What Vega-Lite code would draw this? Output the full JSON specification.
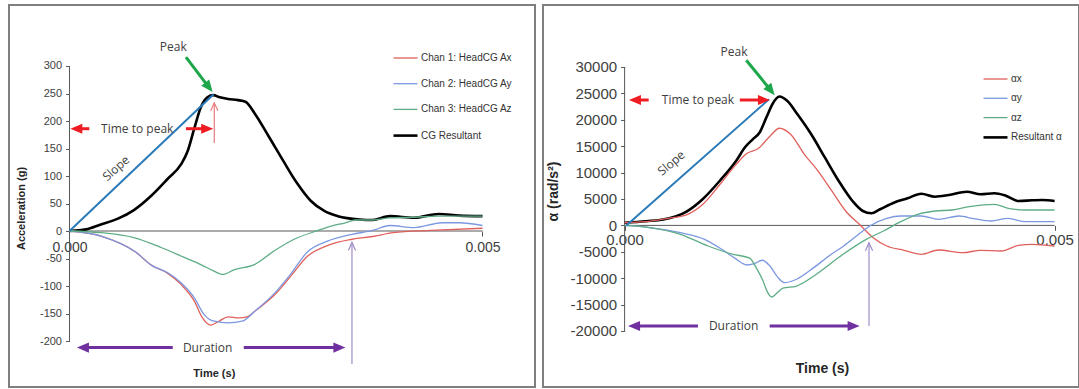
{
  "$schema": "https://vega.github.io/schema/vega-lite/v6.json",
  "background": "white",
  "padding": {"left": 8, "top": 4, "right": 0, "bottom": 0},
  "spacing": 6,
  "config": {
    "view": {"stroke": "#7f7f7f", "strokeWidth": 2},
    "font": "Liberation Sans"
  },
  "resolve": {"scale": {"x": "independent", "y": "independent", "color": "independent", "strokeWidth": "independent"}, "legend": {"color": "independent", "strokeWidth": "independent"}},
  "datasets": {
    "left_axes": [{"t": 0, "v": -200, "t2": 0, "v2": 300}, {"t": 0, "v": 0, "t2": 0.005, "v2": 0}],
    "left_series": [
      {"s": "CG Resultant", "t": 0, "v": 0}, {"s": "CG Resultant", "t": 0.0002, "v": 3}, {"s": "CG Resultant", "t": 0.00038, "v": 12}, {"s": "CG Resultant", "t": 0.00058, "v": 22}, {"s": "CG Resultant", "t": 0.00078, "v": 38}, {"s": "CG Resultant", "t": 0.00099, "v": 64}, {"s": "CG Resultant", "t": 0.00119, "v": 95}, {"s": "CG Resultant", "t": 0.00135, "v": 121}, {"s": "CG Resultant", "t": 0.00143, "v": 145}, {"s": "CG Resultant", "t": 0.00151, "v": 186}, {"s": "CG Resultant", "t": 0.00159, "v": 225}, {"s": "CG Resultant", "t": 0.00167, "v": 243}, {"s": "CG Resultant", "t": 0.00174, "v": 247}, {"s": "CG Resultant", "t": 0.00182, "v": 243}, {"s": "CG Resultant", "t": 0.00192, "v": 240}, {"s": "CG Resultant", "t": 0.00204, "v": 238}, {"s": "CG Resultant", "t": 0.00213, "v": 235}, {"s": "CG Resultant", "t": 0.00225, "v": 212}, {"s": "CG Resultant", "t": 0.00242, "v": 170}, {"s": "CG Resultant", "t": 0.00259, "v": 127}, {"s": "CG Resultant", "t": 0.00275, "v": 88}, {"s": "CG Resultant", "t": 0.00292, "v": 55}, {"s": "CG Resultant", "t": 0.00309, "v": 36}, {"s": "CG Resultant", "t": 0.00325, "v": 27}, {"s": "CG Resultant", "t": 0.00351, "v": 21}, {"s": "CG Resultant", "t": 0.00367, "v": 20}, {"s": "CG Resultant", "t": 0.00388, "v": 27}, {"s": "CG Resultant", "t": 0.00417, "v": 24}, {"s": "CG Resultant", "t": 0.00447, "v": 31}, {"s": "CG Resultant", "t": 0.00472, "v": 28}, {"s": "CG Resultant", "t": 0.005, "v": 27},
      {"s": "Chan 1: HeadCG Ax", "t": 0, "v": 0}, {"s": "Chan 1: HeadCG Ax", "t": 0.0004, "v": -10}, {"s": "Chan 1: HeadCG Ax", "t": 0.0008, "v": -38}, {"s": "Chan 1: HeadCG Ax", "t": 0.00099, "v": -62}, {"s": "Chan 1: HeadCG Ax", "t": 0.00119, "v": -77}, {"s": "Chan 1: HeadCG Ax", "t": 0.00135, "v": -97}, {"s": "Chan 1: HeadCG Ax", "t": 0.00151, "v": -127}, {"s": "Chan 1: HeadCG Ax", "t": 0.00161, "v": -158}, {"s": "Chan 1: HeadCG Ax", "t": 0.00171, "v": -171}, {"s": "Chan 1: HeadCG Ax", "t": 0.00181, "v": -164}, {"s": "Chan 1: HeadCG Ax", "t": 0.00192, "v": -156}, {"s": "Chan 1: HeadCG Ax", "t": 0.00205, "v": -158}, {"s": "Chan 1: HeadCG Ax", "t": 0.00215, "v": -156}, {"s": "Chan 1: HeadCG Ax", "t": 0.00225, "v": -145}, {"s": "Chan 1: HeadCG Ax", "t": 0.00249, "v": -115}, {"s": "Chan 1: HeadCG Ax", "t": 0.00268, "v": -82}, {"s": "Chan 1: HeadCG Ax", "t": 0.00288, "v": -46}, {"s": "Chan 1: HeadCG Ax", "t": 0.00313, "v": -26}, {"s": "Chan 1: HeadCG Ax", "t": 0.00342, "v": -15}, {"s": "Chan 1: HeadCG Ax", "t": 0.00367, "v": -10}, {"s": "Chan 1: HeadCG Ax", "t": 0.00392, "v": -3}, {"s": "Chan 1: HeadCG Ax", "t": 0.00438, "v": 1}, {"s": "Chan 1: HeadCG Ax", "t": 0.005, "v": 5},
      {"s": "Chan 2: HeadCG Ay", "t": 0, "v": 0}, {"s": "Chan 2: HeadCG Ay", "t": 0.0004, "v": -10}, {"s": "Chan 2: HeadCG Ay", "t": 0.0008, "v": -38}, {"s": "Chan 2: HeadCG Ay", "t": 0.00099, "v": -62}, {"s": "Chan 2: HeadCG Ay", "t": 0.00119, "v": -76}, {"s": "Chan 2: HeadCG Ay", "t": 0.00135, "v": -94}, {"s": "Chan 2: HeadCG Ay", "t": 0.00151, "v": -121}, {"s": "Chan 2: HeadCG Ay", "t": 0.00163, "v": -152}, {"s": "Chan 2: HeadCG Ay", "t": 0.00175, "v": -164}, {"s": "Chan 2: HeadCG Ay", "t": 0.00192, "v": -167}, {"s": "Chan 2: HeadCG Ay", "t": 0.00209, "v": -164}, {"s": "Chan 2: HeadCG Ay", "t": 0.00225, "v": -145}, {"s": "Chan 2: HeadCG Ay", "t": 0.00249, "v": -112}, {"s": "Chan 2: HeadCG Ay", "t": 0.00268, "v": -78}, {"s": "Chan 2: HeadCG Ay", "t": 0.00288, "v": -38}, {"s": "Chan 2: HeadCG Ay", "t": 0.00313, "v": -18}, {"s": "Chan 2: HeadCG Ay", "t": 0.00342, "v": -6}, {"s": "Chan 2: HeadCG Ay", "t": 0.00367, "v": 1}, {"s": "Chan 2: HeadCG Ay", "t": 0.00388, "v": 10}, {"s": "Chan 2: HeadCG Ay", "t": 0.00417, "v": 6}, {"s": "Chan 2: HeadCG Ay", "t": 0.00451, "v": 15}, {"s": "Chan 2: HeadCG Ay", "t": 0.00472, "v": 15}, {"s": "Chan 2: HeadCG Ay", "t": 0.005, "v": 10},
      {"s": "Chan 3: HeadCG Az", "t": 0, "v": 0}, {"s": "Chan 3: HeadCG Az", "t": 0.00038, "v": -3}, {"s": "Chan 3: HeadCG Az", "t": 0.00078, "v": -12}, {"s": "Chan 3: HeadCG Az", "t": 0.00111, "v": -30}, {"s": "Chan 3: HeadCG Az", "t": 0.00139, "v": -48}, {"s": "Chan 3: HeadCG Az", "t": 0.00159, "v": -61}, {"s": "Chan 3: HeadCG Az", "t": 0.00175, "v": -73}, {"s": "Chan 3: HeadCG Az", "t": 0.00185, "v": -79}, {"s": "Chan 3: HeadCG Az", "t": 0.002, "v": -70}, {"s": "Chan 3: HeadCG Az", "t": 0.00224, "v": -61}, {"s": "Chan 3: HeadCG Az", "t": 0.00248, "v": -36}, {"s": "Chan 3: HeadCG Az", "t": 0.00272, "v": -15}, {"s": "Chan 3: HeadCG Az", "t": 0.00301, "v": 1}, {"s": "Chan 3: HeadCG Az", "t": 0.00317, "v": 9}, {"s": "Chan 3: HeadCG Az", "t": 0.00334, "v": 15}, {"s": "Chan 3: HeadCG Az", "t": 0.00346, "v": 20}, {"s": "Chan 3: HeadCG Az", "t": 0.00367, "v": 20}, {"s": "Chan 3: HeadCG Az", "t": 0.00388, "v": 24}, {"s": "Chan 3: HeadCG Az", "t": 0.00417, "v": 25}, {"s": "Chan 3: HeadCG Az", "t": 0.00447, "v": 27}, {"s": "Chan 3: HeadCG Az", "t": 0.005, "v": 27}
    ],
    "left_shafts": [
      {"k": "ttp", "t": 0.00012, "v": 186, "t2": 0.00024, "v2": 186},
      {"k": "ttp", "t": 0.00141, "v": 186, "t2": 0.00163, "v2": 186},
      {"k": "dur", "t": 0.00021, "v": -212, "t2": 0.00125, "v2": -212},
      {"k": "dur", "t": 0.00211, "v": -212, "t2": 0.00323, "v2": -212},
      {"k": "peak", "t": 0.00141, "v": 316, "t2": 0.001658, "v2": 267}
    ],
    "left_marks": [
      {"k": "ttpm", "t": 0.001753, "v": 160, "t2": 0.001753, "v2": 233},
      {"k": "durm", "t": 0.00342, "v": -242, "t2": 0.00342, "v2": -21}
    ],
    "left_heads": [
      {"k": "ttp", "h": "left", "t": 0.00001, "v": 186},
      {"k": "ttp", "h": "right", "t": 0.00174, "v": 186},
      {"k": "dur", "h": "left", "t": 0.00009, "v": -212},
      {"k": "dur", "h": "right", "t": 0.00334, "v": -212},
      {"k": "peak", "h": "diag", "t": 0.001733, "v": 252.7}
    ],
    "left_open": [
      {"k": "ttpm", "h": "up", "t": 0.001753, "v": 233},
      {"k": "durm", "h": "up", "t": 0.00342, "v": -21}
    ],
    "left_slope": [{"t": 0, "v": 0, "t2": 0.001745, "v2": 248.5}],
    "left_text": [
      {"label": "Peak", "t": 0.001257, "v": 335},
      {"label": "Time to peak", "t": 0.00082, "v": 186},
      {"label": "Duration", "t": 0.001673, "v": -212}
    ],
    "left_slope_text": [{"label": "Slope", "t": 0.000563, "v": 114}],
    "right_axes": [{"t": 0, "v": -20000, "t2": 0, "v2": 30000}, {"t": 0, "v": 0, "t2": 0.005, "v2": 0}],
    "right_series": [
      {"s": "Resultant α", "t": 0, "v": 500}, {"s": "Resultant α", "t": 0.00025, "v": 800}, {"s": "Resultant α", "t": 0.00045, "v": 1100}, {"s": "Resultant α", "t": 0.00072, "v": 2600}, {"s": "Resultant α", "t": 0.00091, "v": 5000}, {"s": "Resultant α", "t": 0.00111, "v": 8500}, {"s": "Resultant α", "t": 0.0013, "v": 12300}, {"s": "Resultant α", "t": 0.0014, "v": 14800}, {"s": "Resultant α", "t": 0.00149, "v": 16300}, {"s": "Resultant α", "t": 0.00157, "v": 17600}, {"s": "Resultant α", "t": 0.00165, "v": 20500}, {"s": "Resultant α", "t": 0.00172, "v": 23000}, {"s": "Resultant α", "t": 0.0018, "v": 24400}, {"s": "Resultant α", "t": 0.00189, "v": 23600}, {"s": "Resultant α", "t": 0.00201, "v": 21040}, {"s": "Resultant α", "t": 0.00217, "v": 17250}, {"s": "Resultant α", "t": 0.00233, "v": 12820}, {"s": "Resultant α", "t": 0.00249, "v": 8410}, {"s": "Resultant α", "t": 0.00265, "v": 4620}, {"s": "Resultant α", "t": 0.00277, "v": 2730}, {"s": "Resultant α", "t": 0.00287, "v": 2290}, {"s": "Resultant α", "t": 0.00297, "v": 3050}, {"s": "Resultant α", "t": 0.00313, "v": 4300}, {"s": "Resultant α", "t": 0.00329, "v": 5130}, {"s": "Resultant α", "t": 0.00345, "v": 6000}, {"s": "Resultant α", "t": 0.00361, "v": 5440}, {"s": "Resultant α", "t": 0.00377, "v": 5760}, {"s": "Resultant α", "t": 0.00398, "v": 6380}, {"s": "Resultant α", "t": 0.00414, "v": 5890}, {"s": "Resultant α", "t": 0.0043, "v": 6080}, {"s": "Resultant α", "t": 0.00442, "v": 5700}, {"s": "Resultant α", "t": 0.00458, "v": 4620}, {"s": "Resultant α", "t": 0.00474, "v": 4750}, {"s": "Resultant α", "t": 0.00486, "v": 4810}, {"s": "Resultant α", "t": 0.005, "v": 4620},
      {"s": "αx", "t": 0, "v": 500}, {"s": "αx", "t": 0.00025, "v": 700}, {"s": "αx", "t": 0.00049, "v": 1300}, {"s": "αx", "t": 0.00072, "v": 2000}, {"s": "αx", "t": 0.00091, "v": 4000}, {"s": "αx", "t": 0.00111, "v": 7800}, {"s": "αx", "t": 0.0013, "v": 11600}, {"s": "αx", "t": 0.00142, "v": 13600}, {"s": "αx", "t": 0.00155, "v": 14500}, {"s": "αx", "t": 0.00169, "v": 16900}, {"s": "αx", "t": 0.0018, "v": 18400}, {"s": "αx", "t": 0.00193, "v": 17250}, {"s": "αx", "t": 0.00209, "v": 13470}, {"s": "αx", "t": 0.00225, "v": 10300}, {"s": "αx", "t": 0.00241, "v": 6520}, {"s": "αx", "t": 0.00257, "v": 2730}, {"s": "αx", "t": 0.00273, "v": 210}, {"s": "αx", "t": 0.00289, "v": -2330}, {"s": "αx", "t": 0.00305, "v": -3900}, {"s": "αx", "t": 0.00325, "v": -4720}, {"s": "αx", "t": 0.00345, "v": -5470}, {"s": "αx", "t": 0.00365, "v": -4660}, {"s": "αx", "t": 0.00393, "v": -5170}, {"s": "αx", "t": 0.00414, "v": -4720}, {"s": "αx", "t": 0.00438, "v": -4850}, {"s": "αx", "t": 0.00458, "v": -3770}, {"s": "αx", "t": 0.00474, "v": -3580}, {"s": "αx", "t": 0.005, "v": -3900},
      {"s": "αy", "t": 0, "v": 0}, {"s": "αy", "t": 0.00025, "v": -310}, {"s": "αy", "t": 0.00065, "v": -1380}, {"s": "αy", "t": 0.00093, "v": -2640}, {"s": "αy", "t": 0.00113, "v": -4530}, {"s": "αy", "t": 0.00129, "v": -6300}, {"s": "αy", "t": 0.00142, "v": -7500}, {"s": "αy", "t": 0.0015, "v": -7300}, {"s": "αy", "t": 0.0016, "v": -6600}, {"s": "αy", "t": 0.00169, "v": -7700}, {"s": "αy", "t": 0.00178, "v": -9800}, {"s": "αy", "t": 0.00186, "v": -10850}, {"s": "αy", "t": 0.002, "v": -10200}, {"s": "αy", "t": 0.0022, "v": -8000}, {"s": "αy", "t": 0.0024, "v": -5500}, {"s": "αy", "t": 0.00254, "v": -4000}, {"s": "αy", "t": 0.00277, "v": -1060}, {"s": "αy", "t": 0.00285, "v": -100}, {"s": "αy", "t": 0.00305, "v": 1340}, {"s": "αy", "t": 0.00321, "v": 1780}, {"s": "αy", "t": 0.00345, "v": 1780}, {"s": "αy", "t": 0.00365, "v": 1150}, {"s": "αy", "t": 0.00389, "v": 1780}, {"s": "αy", "t": 0.00406, "v": 1270}, {"s": "αy", "t": 0.00426, "v": 830}, {"s": "αy", "t": 0.00446, "v": 1340}, {"s": "αy", "t": 0.00466, "v": 700}, {"s": "αy", "t": 0.005, "v": 700},
      {"s": "αz", "t": 0, "v": 0}, {"s": "αz", "t": 0.00025, "v": -310}, {"s": "αz", "t": 0.00065, "v": -1700}, {"s": "αz", "t": 0.00097, "v": -3900}, {"s": "αz", "t": 0.00126, "v": -5470}, {"s": "αz", "t": 0.001455, "v": -6200}, {"s": "αz", "t": 0.00153, "v": -8000}, {"s": "αz", "t": 0.00161, "v": -10530}, {"s": "αz", "t": 0.00166, "v": -12600}, {"s": "αz", "t": 0.00171, "v": -13560}, {"s": "αz", "t": 0.00176, "v": -13000}, {"s": "αz", "t": 0.00184, "v": -11900}, {"s": "αz", "t": 0.002, "v": -11480}, {"s": "αz", "t": 0.00223, "v": -9260}, {"s": "αz", "t": 0.00254, "v": -5470}, {"s": "αz", "t": 0.00281, "v": -2640}, {"s": "αz", "t": 0.00301, "v": -1060}, {"s": "αz", "t": 0.00321, "v": 700}, {"s": "αz", "t": 0.00341, "v": 2100}, {"s": "αz", "t": 0.00361, "v": 2730}, {"s": "αz", "t": 0.00381, "v": 2920}, {"s": "αz", "t": 0.00401, "v": 3540}, {"s": "αz", "t": 0.0043, "v": 4000}, {"s": "αz", "t": 0.00446, "v": 3240}, {"s": "αz", "t": 0.00466, "v": 2920}, {"s": "αz", "t": 0.005, "v": 2920}
    ],
    "right_shafts": [
      {"k": "ttp", "t": 0.00017, "v": 23750, "t2": 0.00028, "v2": 23750},
      {"k": "ttp", "t": 0.00134, "v": 23750, "t2": 0.00157, "v2": 23750},
      {"k": "dur", "t": 0.00017, "v": -19050, "t2": 0.000853, "v2": -19050},
      {"k": "dur", "t": 0.001687, "v": -19050, "t2": 0.00261, "v2": -19050},
      {"k": "peak", "t": 0.001415, "v": 31270, "t2": 0.001673, "v2": 26130}
    ],
    "right_marks": [
      {"k": "durm", "t": 0.002842, "v": -19050, "t2": 0.002842, "v2": -3270}
    ],
    "right_heads": [
      {"k": "ttp", "h": "left", "t": 0.00005, "v": 23750},
      {"k": "ttp", "h": "right", "t": 0.00169, "v": 23750},
      {"k": "dur", "h": "left", "t": 0.00004, "v": -19050},
      {"k": "dur", "h": "right", "t": 0.002733, "v": -19050},
      {"k": "peak", "h": "diag", "t": 0.001745, "v": 24640}
    ],
    "right_open": [
      {"k": "durm", "h": "up", "t": 0.002842, "v": -3270}
    ],
    "right_slope": [{"t": 0.00002, "v": 0, "t2": 0.001679, "v2": 23880}],
    "right_text": [
      {"label": "Peak", "t": 0.001272, "v": 32900},
      {"label": "Time to peak", "t": 0.000853, "v": 23750},
      {"label": "Duration", "t": 0.001268, "v": -19050}
    ],
    "right_slope_text": [{"label": "Slope", "t": 0.000543, "v": 11800}]
  },
  "hconcat": [
    {
      "width": 526,
      "height": 382,
      "encoding": {
        "x": {"field": "t", "type": "quantitative", "scale": {"domain": [-0.0007324, 0.005636], "nice": false, "zero": false},
          "axis": {"values": [0, 0.005], "format": ".3f", "offset": -156, "domain": false, "grid": false, "tickSize": 5, "tickColor": "#595959", "labelFontSize": 14, "labelColor": "#404040", "labelPadding": 4, "labelFlush": false, "labelOverlap": false, "title": "Time (s)", "titleX": 204.8, "titleY": 142, "titleFontSize": 11, "titleFontWeight": "bold", "titleColor": "#262626", "titleAlign": "center", "titleBaseline": "middle"}},
        "y": {"field": "v", "type": "quantitative", "scale": {"domain": [-283.6, 410.9], "nice": false, "zero": false},
          "axis": {"values": [-200, -150, -100, -50, 0, 50, 100, 150, 200, 250, 300], "labelExpr": "replace(datum.label, '−', '-')", "offset": -60.5, "domain": false, "grid": false, "tickSize": 4, "tickColor": "#595959", "labelFontSize": 11, "labelColor": "#404040", "labelPadding": 4, "labelOverlap": false, "title": "Acceleration (g)", "titleX": -48, "titleY": 203, "titleFontSize": 11, "titleFontWeight": "bold", "titleColor": "#262626", "titleAngle": 270, "titleAlign": "center", "titleBaseline": "middle"}}
      },
      "layer": [
        {
          "data": {"name": "left_axes"},
          "mark": {"type": "rule", "color": "#595959", "strokeWidth": 1},
          "encoding": {"x2": {"field": "t2"}, "y2": {"field": "v2"}}
        },
        {
          "data": {"name": "left_series"},
          "mark": {"type": "line", "interpolate": "monotone"},
          "encoding": {
            "color": {"field": "s", "type": "nominal",
              "scale": {"domain": ["Chan 1: HeadCG Ax", "Chan 2: HeadCG Ay", "Chan 3: HeadCG Az", "CG Resultant"], "range": ["#E0605C", "#7B98E0", "#5EAD86", "#000000"]},
              "legend": {"title": null, "orient": "none", "legendX": 383, "legendY": 40, "symbolType": "stroke", "symbolSize": 576, "labelFontSize": 10, "labelColor": "#333333", "rowPadding": 7.7, "labelOffset": 2, "padding": 0}},
            "strokeWidth": {"field": "s", "type": "nominal",
              "scale": {"type": "ordinal", "domain": ["Chan 1: HeadCG Ax", "Chan 2: HeadCG Ay", "Chan 3: HeadCG Az", "CG Resultant"], "range": [1.3, 1.3, 1.3, 2.6]},
              "legend": {"title": null, "orient": "none", "legendX": 383, "legendY": 40, "symbolType": "stroke", "symbolSize": 576, "labelFontSize": 10, "labelColor": "#333333", "rowPadding": 7.7, "labelOffset": 2, "padding": 0}}
          }
        },
        {
          "data": {"name": "left_slope"},
          "mark": {"type": "rule", "color": "#2A7AB8", "strokeWidth": 2},
          "encoding": {"x2": {"field": "t2"}, "y2": {"field": "v2"}}
        },
        {
          "data": {"name": "left_shafts"},
          "mark": {"type": "rule", "strokeWidth": 3, "strokeCap": "butt"},
          "encoding": {"x2": {"field": "t2"}, "y2": {"field": "v2"},
            "stroke": {"field": "k", "type": "nominal", "scale": {"domain": ["ttp", "dur", "peak", "ttpm", "durm"], "range": ["#EE1D23", "#7030A0", "#1EA64A", "#E87C7C", "#A08CC8"]}, "legend": null}}
        },
        {
          "data": {"name": "left_marks"},
          "mark": {"type": "rule", "strokeWidth": 1.2},
          "encoding": {"x2": {"field": "t2"}, "y2": {"field": "v2"},
            "stroke": {"field": "k", "type": "nominal", "scale": {"domain": ["ttp", "dur", "peak", "ttpm", "durm"], "range": ["#EE1D23", "#7030A0", "#1EA64A", "#E87C7C", "#A08CC8"]}, "legend": null}}
        },
        {
          "data": {"name": "left_heads"},
          "mark": {"type": "point", "filled": true, "opacity": 1, "size": 576, "strokeWidth": 0},
          "encoding": {
            "fill": {"field": "k", "type": "nominal", "scale": {"domain": ["ttp", "dur", "peak"], "range": ["#EE1D23", "#7030A0", "#1EA64A"]}, "legend": null},
            "shape": {"field": "h", "type": "nominal", "scale": {"domain": ["left", "right", "diag", "up"], "range": ["M0,0L1,-0.42L1,0.42Z", "M0,0L-1,-0.42L-1,0.42Z", "M0,0L-0.285,-1.047L-0.947,-0.529Z", "M-0.45,1L0,0L0.45,1"]}, "legend": null}}
        },
        {
          "data": {"name": "left_open"},
          "mark": {"type": "point", "filled": false, "opacity": 1, "size": 256, "strokeWidth": 1.2},
          "encoding": {
            "stroke": {"field": "k", "type": "nominal", "scale": {"domain": ["ttp", "dur", "peak", "ttpm", "durm"], "range": ["#EE1D23", "#7030A0", "#1EA64A", "#E87C7C", "#A08CC8"]}, "legend": null},
            "shape": {"field": "h", "type": "nominal", "scale": {"domain": ["left", "right", "diag", "up"], "range": ["M0,0L1,-0.42L1,0.42Z", "M0,0L-1,-0.42L-1,0.42Z", "M0,0L-0.285,-1.047L-0.947,-0.529Z", "M-0.45,1L0,0L0.45,1"]}, "legend": null}}
        },
        {
          "data": {"name": "left_text"},
          "mark": {"type": "text", "font": "Open Sans", "fontSize": 12, "color": "#404040", "align": "center", "baseline": "middle"},
          "encoding": {"text": {"field": "label"}}
        },
        {
          "data": {"name": "left_slope_text"},
          "mark": {"type": "text", "font": "Open Sans", "fontSize": 12, "color": "#404040", "align": "center", "baseline": "middle", "angle": 318},
          "encoding": {"text": {"field": "label"}}
        }
      ]
    },
    {
      "width": 536,
      "height": 382,
      "encoding": {
        "x": {"field": "t", "type": "quantitative", "scale": {"domain": [-0.000949, 0.005284], "nice": false, "zero": false},
          "axis": {"values": [0, 0.005], "format": ".3f", "offset": -161.6, "domain": false, "grid": false, "tickSize": 5, "tickColor": "#595959", "labelFontSize": 15, "labelColor": "#404040", "labelPadding": 2, "labelFlush": false, "labelOverlap": false, "title": "Time (s)", "titleX": 279, "titleY": 142.6, "titleFontSize": 14, "titleFontWeight": "bold", "titleColor": "#262626", "titleAlign": "center", "titleBaseline": "middle"}},
        "y": {"field": "v", "type": "quantitative", "scale": {"domain": [-30606, 41742], "nice": false, "zero": false},
          "axis": {"values": [-20000, -15000, -10000, -5000, 0, 5000, 10000, 15000, 20000, 25000, 30000], "format": "d", "labelExpr": "replace(datum.label, '−', '-')", "offset": -81.6, "domain": false, "grid": false, "tickSize": 4, "tickColor": "#595959", "labelFontSize": 15, "labelColor": "#404040", "labelPadding": 4, "labelOverlap": false, "title": "α (rad/s²)", "titleX": -71.6, "titleY": 186, "titleFontSize": 14, "titleFontWeight": "bold", "titleColor": "#262626", "titleAngle": 270, "titleAlign": "center", "titleBaseline": "middle"}}
      },
      "layer": [
        {
          "data": {"name": "right_axes"},
          "mark": {"type": "rule", "color": "#595959", "strokeWidth": 1},
          "encoding": {"x2": {"field": "t2"}, "y2": {"field": "v2"}}
        },
        {
          "data": {"name": "right_series"},
          "mark": {"type": "line", "interpolate": "monotone"},
          "encoding": {
            "color": {"field": "s", "type": "nominal",
              "scale": {"domain": ["αx", "αy", "αz", "Resultant α"], "range": ["#E0605C", "#7B98E0", "#5EAD86", "#000000"]},
              "legend": {"title": null, "orient": "none", "legendX": 439, "legendY": 61, "symbolType": "stroke", "symbolSize": 576, "labelFontSize": 10, "labelColor": "#333333", "rowPadding": 1.3, "labelOffset": 2, "padding": 0}},
            "strokeWidth": {"field": "s", "type": "nominal",
              "scale": {"type": "ordinal", "domain": ["αx", "αy", "αz", "Resultant α"], "range": [1.3, 1.3, 1.3, 2.6]},
              "legend": {"title": null, "orient": "none", "legendX": 439, "legendY": 61, "symbolType": "stroke", "symbolSize": 576, "labelFontSize": 10, "labelColor": "#333333", "rowPadding": 1.3, "labelOffset": 2, "padding": 0}}
          }
        },
        {
          "data": {"name": "right_slope"},
          "mark": {"type": "rule", "color": "#2A7AB8", "strokeWidth": 2},
          "encoding": {"x2": {"field": "t2"}, "y2": {"field": "v2"}}
        },
        {
          "data": {"name": "right_shafts"},
          "mark": {"type": "rule", "strokeWidth": 3, "strokeCap": "butt"},
          "encoding": {"x2": {"field": "t2"}, "y2": {"field": "v2"},
            "stroke": {"field": "k", "type": "nominal", "scale": {"domain": ["ttp", "dur", "peak", "ttpm", "durm"], "range": ["#EE1D23", "#7030A0", "#1EA64A", "#E87C7C", "#A08CC8"]}, "legend": null}}
        },
        {
          "data": {"name": "right_marks"},
          "mark": {"type": "rule", "strokeWidth": 1.2},
          "encoding": {"x2": {"field": "t2"}, "y2": {"field": "v2"},
            "stroke": {"field": "k", "type": "nominal", "scale": {"domain": ["ttp", "dur", "peak", "ttpm", "durm"], "range": ["#EE1D23", "#7030A0", "#1EA64A", "#E87C7C", "#A08CC8"]}, "legend": null}}
        },
        {
          "data": {"name": "right_heads"},
          "mark": {"type": "point", "filled": true, "opacity": 1, "size": 576, "strokeWidth": 0},
          "encoding": {
            "fill": {"field": "k", "type": "nominal", "scale": {"domain": ["ttp", "dur", "peak"], "range": ["#EE1D23", "#7030A0", "#1EA64A"]}, "legend": null},
            "shape": {"field": "h", "type": "nominal", "scale": {"domain": ["left", "right", "diag", "up"], "range": ["M0,0L1,-0.42L1,0.42Z", "M0,0L-1,-0.42L-1,0.42Z", "M0,0L-0.285,-1.047L-0.947,-0.529Z", "M-0.45,1L0,0L0.45,1"]}, "legend": null}}
        },
        {
          "data": {"name": "right_open"},
          "mark": {"type": "point", "filled": false, "opacity": 1, "size": 256, "strokeWidth": 1.2},
          "encoding": {
            "stroke": {"field": "k", "type": "nominal", "scale": {"domain": ["ttp", "dur", "peak", "ttpm", "durm"], "range": ["#EE1D23", "#7030A0", "#1EA64A", "#E87C7C", "#A08CC8"]}, "legend": null},
            "shape": {"field": "h", "type": "nominal", "scale": {"domain": ["left", "right", "diag", "up"], "range": ["M0,0L1,-0.42L1,0.42Z", "M0,0L-1,-0.42L-1,0.42Z", "M0,0L-0.285,-1.047L-0.947,-0.529Z", "M-0.45,1L0,0L0.45,1"]}, "legend": null}}
        },
        {
          "data": {"name": "right_text"},
          "mark": {"type": "text", "font": "Open Sans", "fontSize": 12, "color": "#404040", "align": "center", "baseline": "middle"},
          "encoding": {"text": {"field": "label"}}
        },
        {
          "data": {"name": "right_slope_text"},
          "mark": {"type": "text", "font": "Open Sans", "fontSize": 12, "color": "#404040", "align": "center", "baseline": "middle", "angle": 320},
          "encoding": {"text": {"field": "label"}}
        }
      ]
    }
  ]
}
